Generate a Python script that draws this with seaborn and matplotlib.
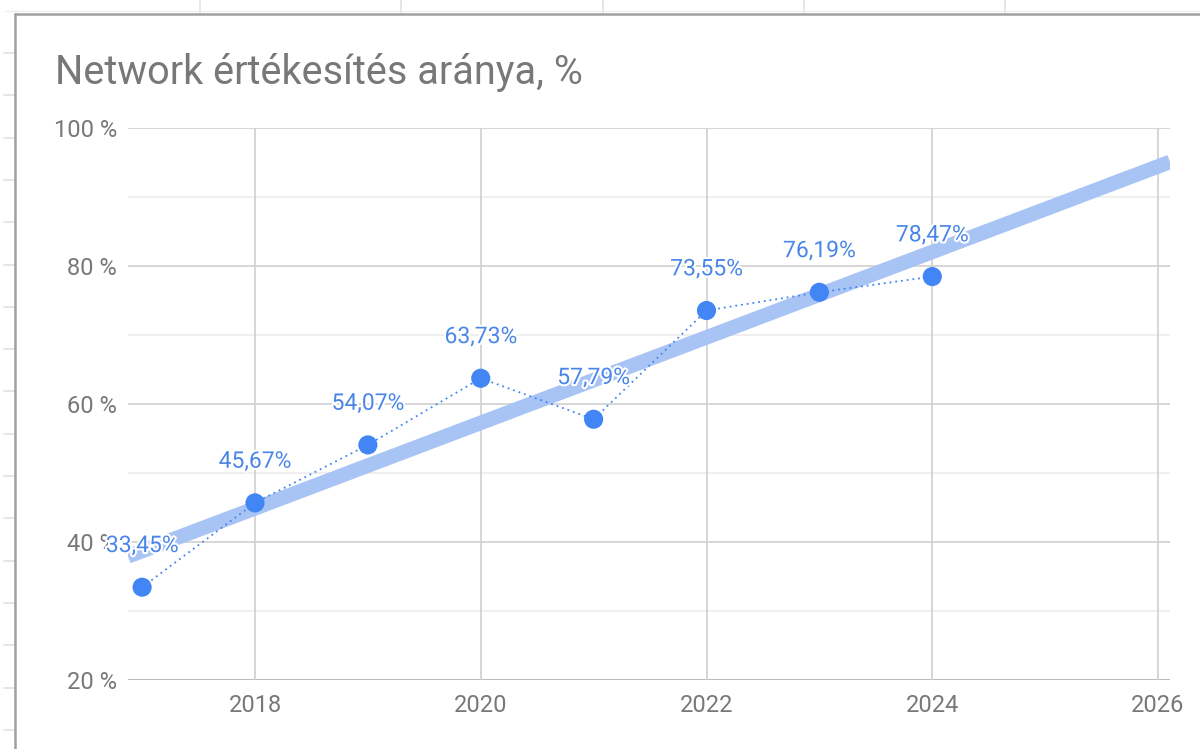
import numpy as np
import pandas as pd
import matplotlib
matplotlib.use("Agg")
import matplotlib.pyplot as plt
import matplotlib.patheffects as pe
from matplotlib.lines import Line2D
from matplotlib.ticker import FixedLocator
import seaborn as sns

# adatok
years = [2017, 2018, 2019, 2020, 2021, 2022, 2023, 2024]
share = [33.45, 45.67, 54.07, 63.73, 57.79, 73.55, 76.19, 78.47]
labels = ["33,45%", "45,67%", "54,07%", "63,73%", "57,79%", "73,55%", "76,19%", "78,47%"]
ytick_vals = [20, 40, 60, 80, 100]
ytick_labels = ["20 %", "40 %", "60 %", "80 %", "100 %"]
xtick_vals = [2018, 2020, 2022, 2024, 2026]

df = pd.DataFrame({"ev": years, "arany": share})

sns.set_theme(style="white")
plt.rcParams["font.family"] = ["Roboto", "DejaVu Sans"]

blue = "#4285f4"
trend_col = "#a8c4f5"
gray_txt = "#787878"

fig = plt.figure(figsize=(12, 7.49), dpi=100)
ax = fig.add_axes([128 / 1200, 1 - 680 / 749, (1170 - 128) / 1200, (680 - 128) / 749])

xlim = (2016.875, 2026.106)
ax.set_xlim(xlim)
ax.set_ylim(20, 100)

# racsvonalak
for v in [30, 50, 70, 90]:
    ax.axhline(v, color="#ececec", lw=1.2, zorder=0)
for v in [40, 60, 80, 100]:
    ax.axhline(v, color="#cfcfcf", lw=1.2, zorder=0)
ax.axhline(20, color="#bdbdbd", lw=1.5, zorder=0)
for v in xtick_vals:
    ax.axvline(v, color="#cfcfcf", lw=1.2, zorder=0)

# trendvonal
sns.regplot(data=df, x="ev", y="arany", ax=ax, scatter=False, ci=None, truncate=False,
            line_kws=dict(color=trend_col, lw=10.5, solid_capstyle="butt", zorder=2))

# adatsor
sns.lineplot(data=df, x="ev", y="arany", ax=ax, color=blue, lw=1.3,
             linestyle=(0, (1, 2.2)), zorder=3)
sns.scatterplot(data=df, x="ev", y="arany", ax=ax, color=blue, s=190,
                edgecolor="none", zorder=4)

for x, y, t in zip(years, share, labels):
    ax.annotate(t, (x, y), xytext=(0, 30), textcoords="offset points",
                ha="center", va="center", fontsize=16.5, color="#4a86e8",
                zorder=5, annotation_clip=False,
                path_effects=[pe.withStroke(linewidth=3, foreground="white")])

ax.set_xlim(xlim)
ax.set_ylim(20, 100)
ax.xaxis.set_major_locator(FixedLocator(xtick_vals))
ax.set_xticklabels([str(v) for v in xtick_vals])
ax.yaxis.set_major_locator(FixedLocator(ytick_vals))
ax.set_yticklabels(ytick_labels)
ax.tick_params(axis="both", length=0, labelsize=17, labelcolor=gray_txt)
ax.tick_params(axis="x", pad=10)
ax.tick_params(axis="y", pad=8)
ax.set_xlabel("")
ax.set_ylabel("")
for s in ax.spines.values():
    s.set_visible(False)
ax.grid(False)

fig.text(55 / 1200, 1 - 72 / 749, "Network értékesítés aránya, %", fontsize=28.5,
         color=gray_txt, ha="left", va="center")

# tablazat keret a kep szelen
line_c = "#e2e2e2"
for xp in np.arange(200, 1200, 201.3):
    fig.add_artist(Line2D([xp / 1200, xp / 1200], [1, 1 - 14 / 749], color=line_c, lw=1.2))
fig.add_artist(Line2D([5 / 1200, 1], [1 - 11 / 749, 1 - 11 / 749], color="#ededed", lw=1))
for yp in np.arange(53, 749, 42.3):
    fig.add_artist(Line2D([4 / 1200, 15 / 1200], [1 - yp / 749, 1 - yp / 749], color=line_c, lw=1.2))
fig.add_artist(Line2D([15 / 1200, 15 / 1200], [0, 1 - 14 / 749], color="#a0a0a0", lw=1.8))
fig.add_artist(Line2D([15 / 1200, 1], [1 - 14 / 749, 1 - 14 / 749], color="#a0a0a0", lw=1.8))

fig.savefig("out.png", dpi=100)
